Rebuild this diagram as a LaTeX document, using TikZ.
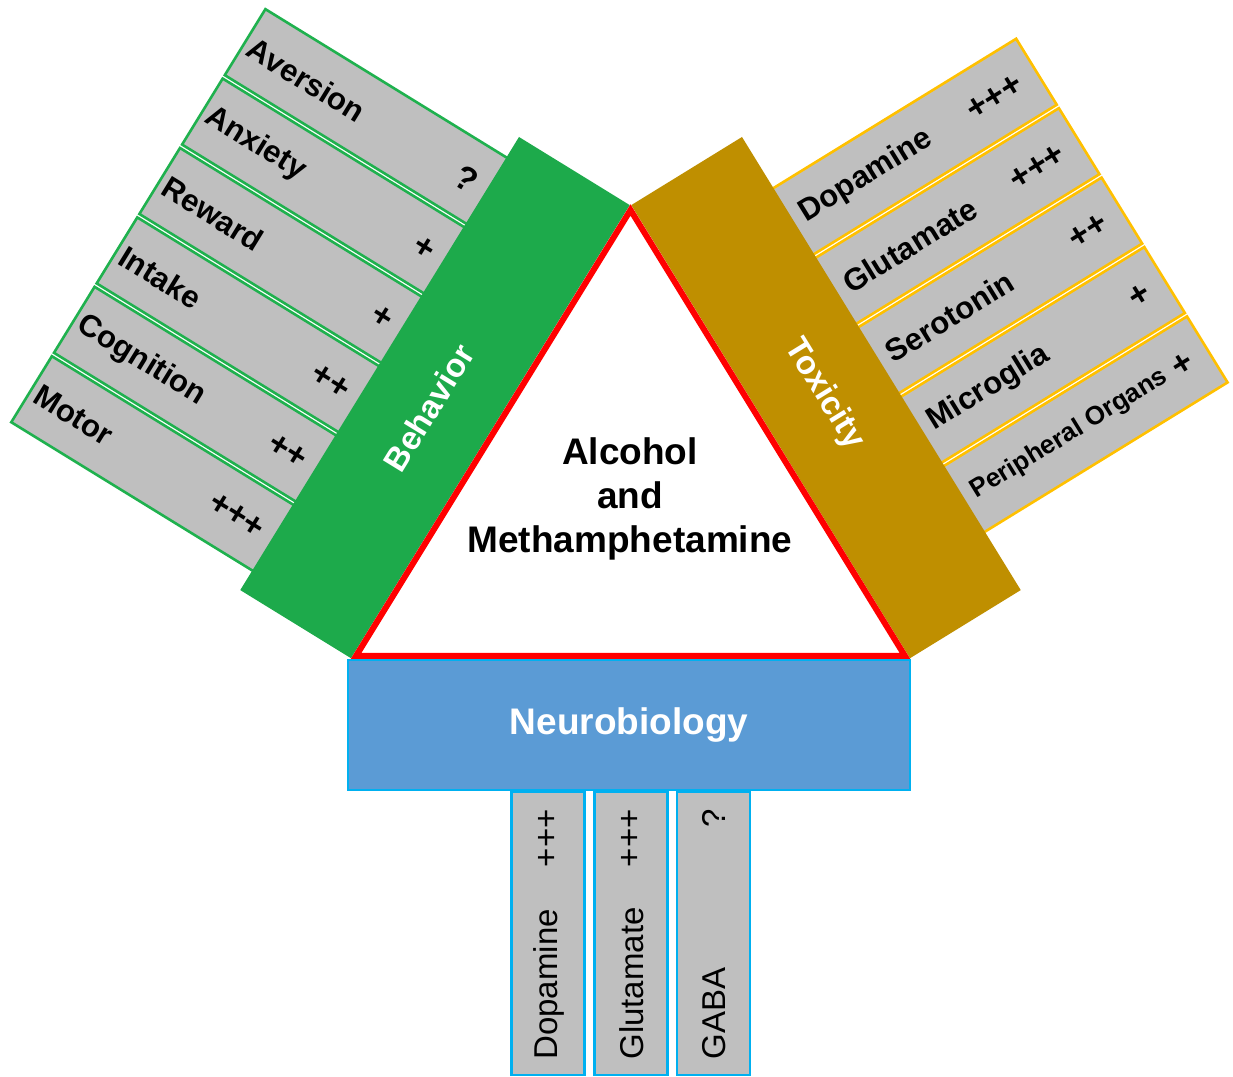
\documentclass[tikz,border=0pt]{standalone}
\usepackage{fontspec}
\setmainfont{Liberation Sans}
\definecolor{bgreen}{HTML}{1DAA4B}
\definecolor{lgreen}{HTML}{1FB14E}
\definecolor{tgold}{HTML}{BF8F00}
\definecolor{sgold}{HTML}{FFC000}
\definecolor{nblue}{HTML}{5B9BD5}
\definecolor{nborder}{HTML}{00B0F0}
\definecolor{sgray}{HTML}{BFBFBF}
\begin{document}
\begin{tikzpicture}[x=0.5pt,y=0.5pt,
  lstrip/.style={fill=sgray,draw=lgreen,line width=1.3pt},
  rstrip/.style={fill=sgray,draw=sgold,line width=1.3pt},
  bstrip/.style={fill=sgray,draw=nborder,line width=1.2pt},
  slabel/.style={inner sep=0pt,transform shape},
  smark/.style={font=\bfseries\fontsize{17}{20}\selectfont,inner sep=0pt,transform shape},
  barlabel/.style={font=\bfseries\fontsize{16.5}{20}\selectfont,text=white,inner sep=0pt,transform shape},
  blabel/.style={font=\fontsize{16.5}{20}\selectfont,inner sep=0pt,rotate=90},
  nbox/.style={draw=nborder,fill=nblue,line width=1.2pt,minimum width=281pt,minimum height=65pt,
    font=\bfseries\fontsize{18.5}{22}\selectfont,text=white}
]
\useasboundingbox (0,0) rectangle (1233,1077);

% Behavior group
\begin{scope}[shift={(519,940)},rotate=-31.6]
  \foreach \lab/\mk [count=\i from 0] in {Aversion/?,Anxiety/+,Reward/+,Intake/++,Cognition/++,Motor/+++}{
    \pgfmathsetmacro\yt{-24-81.5*\i}
    \pgfmathsetmacro\yb{\yt-77.5}
    \pgfmathsetmacro\yc{\yt-38.75}
    \draw[lstrip] (-283,\yt) rectangle (5,\yb);
    \node[slabel,font=\bfseries\fontsize{15.5}{18}\selectfont,anchor=west] (bl\i) at (-277,\yc) {\lab};
    \node[smark,anchor=east] (bm\i) at (-12,\yc) {\mk};
  }
  \fill[bgreen] (0,0) rectangle (130,-532);
  \node[barlabel,rotate=90] (behavior) at (65,-278) {Behavior};
\end{scope}

% Toxicity group
\begin{scope}[shift={(742,940)},rotate=31.6]
  \foreach \lab/\mk/\fs [count=\i from 0] in {Dopamine/+++/15.5,Glutamate/+++/15.5,Serotonin/++/15.5,Microglia/+/15.5,Peripheral Organs/+/13}{
    \pgfmathsetmacro\yt{-60-81.5*\i}
    \pgfmathsetmacro\yb{\yt-77.5}
    \pgfmathsetmacro\yc{\yt-38.75}
    \draw[rstrip] (-5,\yt) rectangle (285,\yb);
    \node[slabel,font=\bfseries\fontsize{\fs}{18}\selectfont,anchor=west] (tl\i) at (10,\yc) {\lab};
    \node[smark,anchor=east] (tm\i) at (266,\yc) {\mk};
  }
  \fill[tgold] (-130,0) rectangle (0,-532);
  \node[barlabel,rotate=-90] (toxicity) at (-65,-262) {Toxicity};
\end{scope}

% central triangle
\draw[red,line width=3pt,fill=white,line join=miter] (630.5,867) -- (356,421) -- (905,421) -- cycle;
\node[align=center,font=\bfseries\fontsize{18.5}{22}\selectfont] (center) at (630,578) {Alcohol\\and\\Methamphetamine};

% Neurobiology
\node[nbox] (neuro) at (629,352) {Neurobiology};

% bottom boxes
\foreach \lab/\mk/\xc [count=\i] in {Dopamine/+++/548,Glutamate/+++/631,GABA/?/713.5}{
  \draw[bstrip] (\xc-36.5,2) rectangle (\xc+36.5,285);
  \node[blabel,anchor=west] (nl\i) at (\xc+1,17) {\lab};
  \node[blabel,anchor=east] (nm\i) at (\xc,268) {\mk};
}
\end{tikzpicture}
\end{document}
